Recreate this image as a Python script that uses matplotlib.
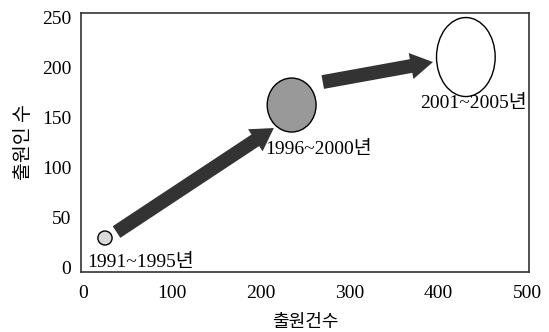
import matplotlib.pyplot as plt
from matplotlib.patches import Ellipse, FancyArrowPatch

# bubbles: (출원건수, 출원인 수, width, height in data units)
periods = ["1991~1995년", "1996~2000년", "2001~2005년"]
x_vals = [25, 235, 431]
y_vals = [29, 162, 210]
bub_w = [16, 55, 66]
bub_h = [14, 54, 79]
bub_colors = ["#d9d9d9", "#999999", "#ffffff"]
label_xy = [(65, 5), (265, 118), (440, 164)]

arrow_tail = [(38, 35), (270, 185)]
arrow_head = [(215, 139), (394, 205)]

xticks = [0, 100, 200, 300, 400, 500]
yticks = [0, 50, 100, 150, 200, 250]

fam = ["Liberation Serif", "Noto Sans CJK KR"]
plt.rcParams["font.family"] = fam

fig = plt.figure(figsize=(5.49, 3.32), dpi=100)
ax = fig.add_axes([0.1475, 0.1807, 0.816, 0.780])
ax.set_xlim(-2, 502)
ax.set_ylim(-5, 254)

for x, y, w, h, c in zip(x_vals, y_vals, bub_w, bub_h, bub_colors):
    ax.add_patch(Ellipse((x, y), w, h, facecolor=c, edgecolor="black", lw=1.0, zorder=3))

for (x0, y0), (x1, y1) in zip(arrow_tail, arrow_head):
    ax.add_patch(FancyArrowPatch((x0, y0), (x1, y1),
                                 arrowstyle="simple,head_width=19,head_length=16,tail_width=10",
                                 mutation_scale=1, color="#333333", lw=0, zorder=2,
                                 shrinkA=0, shrinkB=0))

for p, (lx, ly) in zip(periods, label_xy):
    ax.text(lx, ly, p, ha="center", va="center", fontsize=14, family=fam, zorder=4)

ax.set_xticks(xticks)
ax.set_yticks(yticks)
ax.tick_params(length=0, labelsize=14)
ax.tick_params(axis="y", pad=7)
ax.tick_params(axis="x", pad=9)
for s in ax.spines.values():
    s.set_color("#333333")
    s.set_linewidth(1.2)

ax.set_xlabel("출원건수", fontsize=13, family=["Noto Sans CJK KR"], labelpad=8)
ax.set_ylabel("출원인 수", fontsize=14, family=["Noto Sans CJK KR"], labelpad=6)

fig.savefig("out.png", dpi=100)
